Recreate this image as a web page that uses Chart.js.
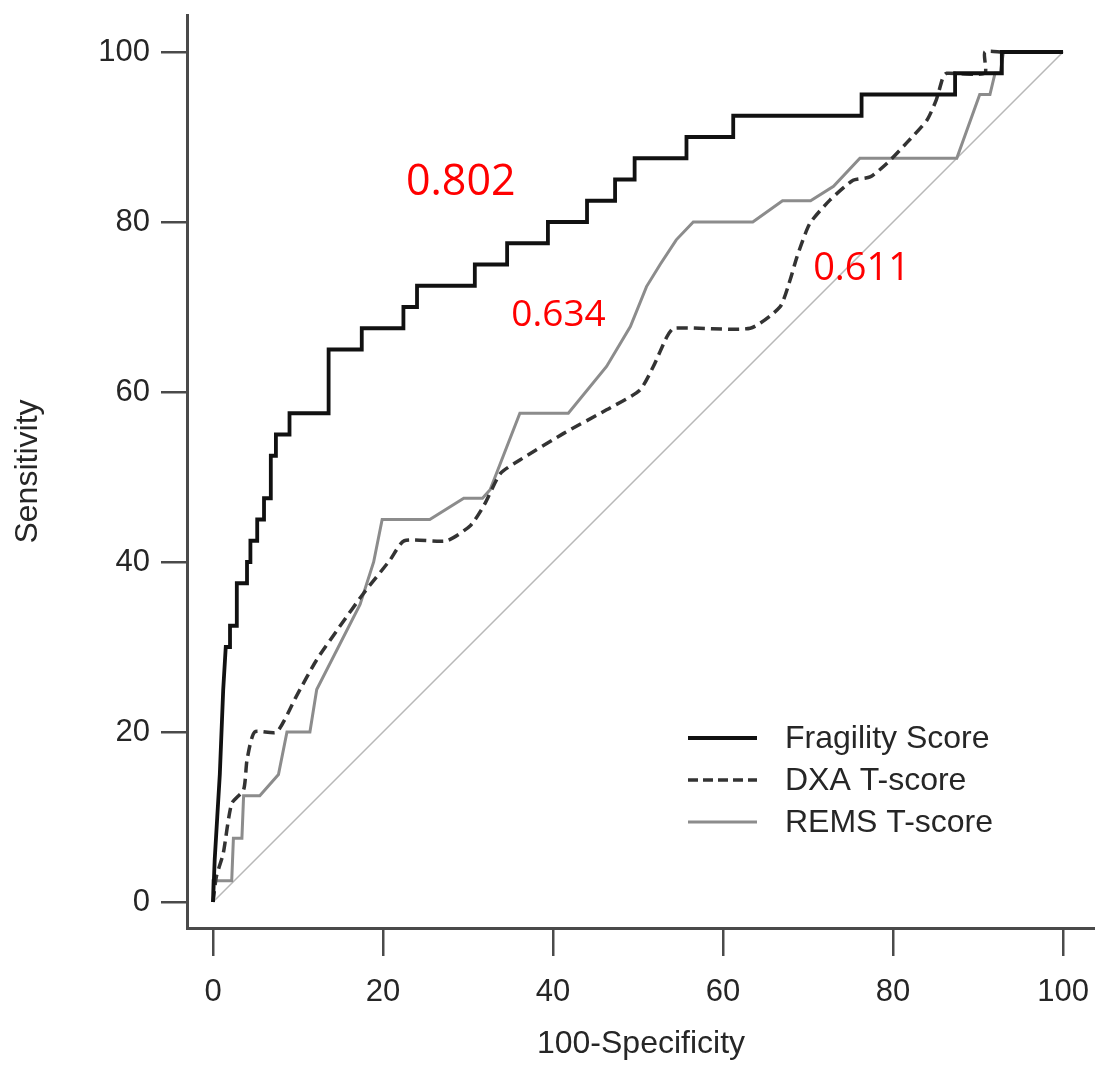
<!DOCTYPE html>
<html>
<head>
<meta charset="utf-8">
<script src="https://cdn.jsdelivr.net/npm/chart.js@4.4.1/dist/chart.umd.min.js"></script>
<style>
  html, body { margin: 0; padding: 0; background: #fff; }
  #wrap { width: 1095px; height: 1065px; }
</style>
</head>
<body>
<div id="wrap"><canvas id="roc"></canvas></div>
<script>
const axisTicks = [0, 20, 40, 60, 80, 100];
const seriesNames = ["Fragility Score", "DXA T-score", "REMS T-score"];
const aucLabels = ["0.802", "0.634", "0.611"];

// 100-Specificity / Sensitivity
const fragilityX = [0, 0.2, 0.5, 0.8, 1.0, 1.2, 1.5, 2.0, 2.0, 2.8, 2.8, 4.0, 4.0, 4.4, 4.4, 5.2, 5.2, 6.0, 6.0, 6.8, 6.8, 7.4, 7.4, 9.0, 9.0, 13.6, 13.6, 17.5, 17.5, 22.4, 22.4, 24.0, 24.0, 30.8, 30.8, 34.6, 34.6, 39.4, 39.4, 44.0, 44.0, 47.3, 47.3, 49.6, 49.6, 55.7, 55.7, 61.2, 61.2, 76.3, 76.3, 87.3, 87.3, 92.8, 92.8, 100];
const fragilityY = [0, 5, 10, 15, 20, 25, 30, 30, 32.5, 32.5, 37.5, 37.5, 40, 40, 42.5, 42.5, 45, 45, 47.5, 47.5, 52.5, 52.5, 55, 55, 57.5, 57.5, 65, 65, 67.5, 67.5, 70, 70, 72.5, 72.5, 75, 75, 77.5, 77.5, 80, 80, 82.5, 82.5, 85, 85, 87.5, 87.5, 90, 90, 92.5, 92.5, 95, 95, 97.5, 97.5, 100, 100];

const dxaX = [0, 0.4, 1.2, 2.2, 3.6, 4.0, 4.9, 7.5, 9.8, 12.2, 14.9, 17.7, 20.8, 22.5, 27.5, 30.3, 31.9, 33.8, 36.1, 41.2, 46.3, 50.2, 51.8, 53.4, 54.2, 63.2, 66.7, 67.9, 68.7, 70.2, 72.6, 75.3, 77.3, 79.3, 81.6, 84.0, 85.1, 85.9, 86.3, 90.8, 90.8, 92.8, 100];
const dxaY = [0, 3, 5.7, 11.6, 13.2, 16.7, 20, 20, 24.2, 28.5, 32.4, 36.3, 40.2, 42.5, 42.5, 44.3, 46.7, 50.4, 52.0, 55.1, 57.9, 60.2, 63.0, 66.5, 67.5, 67.5, 70, 73.2, 75.9, 79.8, 82.6, 84.9, 85.3, 86.9, 89.3, 92.0, 94.4, 97.1, 97.5, 97.5, 100, 100, 100];

const remsX = [0, 0, 2.2, 2.4, 3.4, 3.6, 5.5, 7.7, 8.7, 11.4, 12.2, 17.3, 18.9, 19.9, 25.5, 29.5, 31.7, 32.6, 36.1, 41.8, 46.3, 49.1, 51.0, 52.6, 54.5, 56.5, 63.5, 67.0, 70.3, 73.0, 76.1, 87.5, 90.2, 91.4, 92.0, 92.6, 93.0, 100];
const remsY = [0, 2.5, 2.5, 7.5, 7.5, 12.5, 12.5, 15, 20, 20, 25, 35, 40, 45, 45, 47.5, 47.5, 48.5, 57.5, 57.5, 63.0, 67.7, 72.4, 75, 77.9, 80, 80, 82.5, 82.5, 84.2, 87.5, 87.5, 95, 95, 97.5, 97.5, 100, 100];

const chanceX = [0, 100];
const chanceY = [0, 100];

function toPoints(xs, ys) {
  return xs.map((x, i) => ({ x: x, y: ys[i] }));
}

const axisFont = { family: "'Liberation Sans', Arial, sans-serif", size: 31 };
const textColor = "#262626";
const axisColor = "#4a4a4a";

// where the AUC numbers sit (data units, baseline-left)
const aucSpots = [
  { x: 22.7, y: 83.2, size: 43 },
  { x: 35.1, y: 67.8, size: 37 },
  { x: 70.6, y: 73.2, size: 38 },
];

const legendStyle = [
  { color: "#111", width: 4, dash: [] },
  { color: "#333", width: 3.5, dash: [10, 5] },
  { color: "#8c8c8c", width: 3, dash: [] },
];

// drop the extra room Chart.js keeps for edge tick labels
function noEdgePadding(scale) {
  scale.paddingLeft = 0;
  scale.paddingRight = 0;
  scale.paddingTop = 0;
  scale.paddingBottom = 0;
}

const overlay = {
  id: "overlay",
  afterDatasetsDraw(chart) {
    const { ctx, scales } = chart;
    ctx.save();

    ctx.fillStyle = "#ff0000";
    ctx.textBaseline = "alphabetic";
    ctx.textAlign = "left";
    aucSpots.forEach((s, i) => {
      ctx.font = s.size + "px 'Open Sans', 'Noto Sans', sans-serif";
      ctx.fillText(aucLabels[i], scales.x.getPixelForValue(s.x), scales.y.getPixelForValue(s.y));
    });

    // legend, bottom right
    const rowY = [738, 780, 822];
    ctx.font = "32px 'Liberation Sans', Arial, sans-serif";
    ctx.textBaseline = "middle";
    seriesNames.forEach((name, i) => {
      const st = legendStyle[i];
      ctx.beginPath();
      ctx.setLineDash(st.dash);
      ctx.lineWidth = st.width;
      ctx.strokeStyle = st.color;
      ctx.moveTo(688, rowY[i]);
      ctx.lineTo(757, rowY[i]);
      ctx.stroke();
      ctx.setLineDash([]);
      ctx.fillStyle = textColor;
      ctx.fillText(name, 785, rowY[i] + 1);
    });
    ctx.restore();
  },
};

new Chart(document.getElementById("roc"), {
  type: "scatter",
  data: {
    datasets: [
      {
        label: seriesNames[0],
        data: toPoints(fragilityX, fragilityY),
        showLine: true,
        borderColor: "#111",
        borderWidth: 3.8,
        pointRadius: 0,
        borderJoinStyle: "miter",
      },
      {
        label: seriesNames[1],
        data: toPoints(dxaX, dxaY),
        showLine: true,
        borderColor: "#333",
        borderWidth: 3.5,
        borderDash: [11, 6],
        pointRadius: 0,
        tension: 0.2,
      },
      {
        label: seriesNames[2],
        data: toPoints(remsX, remsY),
        showLine: true,
        borderColor: "#8c8c8c",
        borderWidth: 3,
        pointRadius: 0,
      },
      {
        label: "Chance",
        data: toPoints(chanceX, chanceY),
        showLine: true,
        borderColor: "#b8b8b8",
        borderWidth: 1.5,
        pointRadius: 0,
      },
    ],
  },
  options: {
    responsive: true,
    maintainAspectRatio: false,
    animation: false,
    layout: { padding: { top: 15, left: 0, right: 0, bottom: 0 } },
    plugins: {
      legend: { display: false },
      tooltip: { enabled: false },
    },
    scales: {
      x: {
        type: "linear",
        min: -3.06,
        max: 103.76,
        afterBuildTicks: (scale) => {
          scale.ticks = axisTicks.map((v) => ({ value: v }));
        },
        afterFit: (scale) => {
          scale.height = 137;
          noEdgePadding(scale);
        },
        grid: {
          drawOnChartArea: false,
          drawTicks: true,
          tickLength: 28,
          color: axisColor,
          lineWidth: 2.5,
        },
        border: { display: true, color: axisColor, width: 3 },
        ticks: {
          color: textColor,
          font: axisFont,
          padding: 18,
          maxRotation: 0,
        },
        title: {
          display: true,
          text: "100-Specificity",
          color: textColor,
          font: { family: axisFont.family, size: 32 },
          padding: { top: 0, bottom: 2 },
        },
      },
      y: {
        type: "linear",
        min: -3.06,
        max: 104.35,
        afterBuildTicks: (scale) => {
          scale.ticks = axisTicks.map((v) => ({ value: v }));
        },
        afterFit: (scale) => {
          scale.width = 187;
          noEdgePadding(scale);
        },
        grid: {
          drawOnChartArea: false,
          drawTicks: true,
          tickLength: 26,
          color: axisColor,
          lineWidth: 2.5,
        },
        border: { display: true, color: axisColor, width: 3 },
        ticks: {
          color: textColor,
          font: axisFont,
          padding: 11,
        },
        title: {
          display: true,
          text: "Sensitivity",
          color: textColor,
          font: { family: axisFont.family, size: 32 },
          padding: { top: 9, bottom: 0 },
        },
      },
    },
  },
  plugins: [overlay],
});
</script>
</body>
</html>
